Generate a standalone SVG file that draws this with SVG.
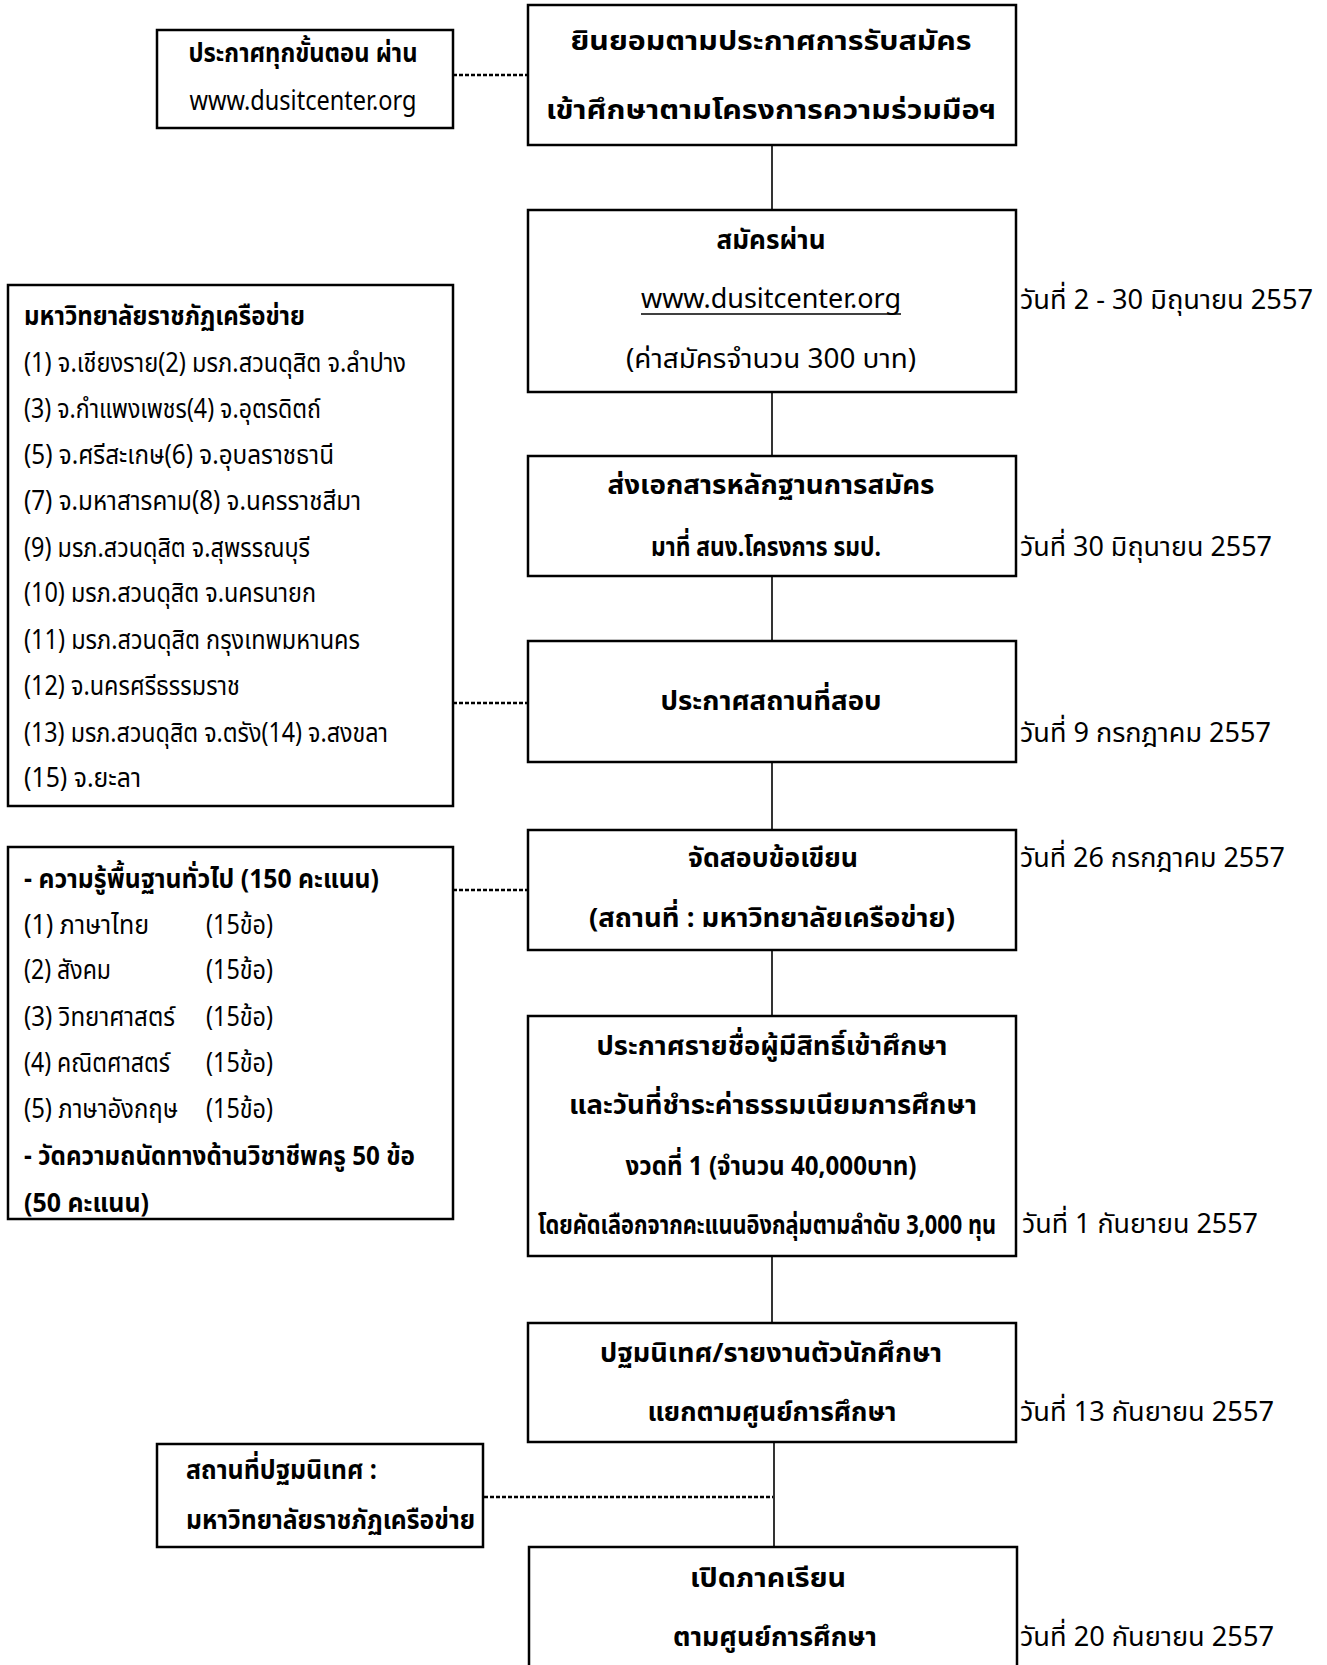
<svg xmlns="http://www.w3.org/2000/svg" width="1327" height="1665" viewBox="0 0 1327 1665">
<style>
.t{font-family:"Noto Sans Thai","Noto Sans","DejaVu Sans",sans-serif;font-size:27px;fill:#000}
.b{font-weight:bold}
.m{text-anchor:middle}
.box{fill:#fff;stroke:#000;stroke-width:2.5}
.ln{stroke:#000;stroke-width:1.6;fill:none}
.dash{stroke:#000;stroke-width:2.5;stroke-dasharray:4 2;fill:none}
</style>
<rect width="1327" height="1665" fill="#fff"/>
<g id="connectors">
<line class="ln" x1="772" y1="145" x2="772" y2="210"/>
<line class="ln" x1="772" y1="392" x2="772" y2="456"/>
<line class="ln" x1="772" y1="576" x2="772" y2="641"/>
<line class="ln" x1="772" y1="762" x2="772" y2="830"/>
<line class="ln" x1="772" y1="950" x2="772" y2="1016"/>
<line class="ln" x1="772" y1="1256" x2="772" y2="1322"/>
<line class="ln" x1="774" y1="1442" x2="774" y2="1547"/>
<line class="dash" x1="453" y1="75" x2="528" y2="75"/>
<line class="dash" x1="453" y1="703" x2="528" y2="703"/>
<line class="dash" x1="453" y1="890" x2="528" y2="890"/>
<line class="dash" x1="484" y1="1497" x2="773" y2="1497"/>
</g>
<g id="n1">
<rect class="box" x="528" y="5" width="488" height="140"/>
<text class="t b m" x="771" y="50" font-size="33" textLength="401" lengthAdjust="spacingAndGlyphs">ยินยอมตามประกาศการรับสมัคร</text>
<text class="t b m" x="771" y="119" font-size="33" textLength="450" lengthAdjust="spacingAndGlyphs">เข้าศึกษาตามโครงการความร่วมมือฯ</text>
</g>
<g id="nA">
<rect class="box" x="157" y="30" width="296" height="98"/>
<text class="t b m" x="303" y="62" textLength="229" lengthAdjust="spacingAndGlyphs">ประกาศทุกขั้นตอน ผ่าน</text>
<text class="t m" x="303" y="110" textLength="227" lengthAdjust="spacingAndGlyphs">www.dusitcenter.org</text>
</g>
<g id="n2">
<rect class="box" x="528" y="210" width="488" height="182"/>
<text class="t b m" x="771" y="249" textLength="109" lengthAdjust="spacingAndGlyphs">สมัครผ่าน</text>
<text class="t m" x="771" y="308" textLength="260" lengthAdjust="spacingAndGlyphs">www.dusitcenter.org</text>
<line x1="641" y1="314" x2="901" y2="314" stroke="#000" stroke-width="1.5"/>
<text class="t m" x="771" y="368" textLength="290" lengthAdjust="spacingAndGlyphs">(ค่าสมัครจำนวน 300 บาท)</text>
<text class="t" x="1020" y="309" textLength="293" lengthAdjust="spacingAndGlyphs">วันที่ 2 - 30 มิถุนายน 2557</text>
</g>
<g id="nB">
<rect class="box" x="8" y="285" width="445" height="521"/>
<text class="t b" x="24" y="325" textLength="281" lengthAdjust="spacingAndGlyphs">มหาวิทยาลัยราชภัฏเครือข่าย</text>
<text class="t" x="24" y="372" textLength="382" lengthAdjust="spacingAndGlyphs">(1) จ.เชียงราย(2) มรภ.สวนดุสิต จ.ลำปาง</text>
<text class="t" x="24" y="418" textLength="297" lengthAdjust="spacingAndGlyphs">(3) จ.กำแพงเพชร(4) จ.อุตรดิตถ์</text>
<text class="t" x="24" y="464" textLength="310" lengthAdjust="spacingAndGlyphs">(5) จ.ศรีสะเกษ(6) จ.อุบลราชธานี</text>
<text class="t" x="24" y="510" textLength="337" lengthAdjust="spacingAndGlyphs">(7) จ.มหาสารคาม(8) จ.นครราชสีมา</text>
<text class="t" x="24" y="557" textLength="286" lengthAdjust="spacingAndGlyphs">(9) มรภ.สวนดุสิต จ.สุพรรณบุรี</text>
<text class="t" x="24" y="602" textLength="292" lengthAdjust="spacingAndGlyphs">(10) มรภ.สวนดุสิต จ.นครนายก</text>
<text class="t" x="24" y="649" textLength="336" lengthAdjust="spacingAndGlyphs">(11) มรภ.สวนดุสิต กรุงเทพมหานคร</text>
<text class="t" x="24" y="695" textLength="216" lengthAdjust="spacingAndGlyphs">(12) จ.นครศรีธรรมราช</text>
<text class="t" x="24" y="742" textLength="364" lengthAdjust="spacingAndGlyphs">(13) มรภ.สวนดุสิต จ.ตรัง(14) จ.สงขลา</text>
<text class="t" x="24" y="787" textLength="117" lengthAdjust="spacingAndGlyphs">(15) จ.ยะลา</text>
</g>
<g id="n3">
<rect class="box" x="528" y="456" width="488" height="120"/>
<text class="t b m" x="771" y="494" textLength="327" lengthAdjust="spacingAndGlyphs">ส่งเอกสารหลักฐานการสมัคร</text>
<text class="t b m" x="766" y="556" textLength="230" lengthAdjust="spacingAndGlyphs">มาที่ สนง.โครงการ รมป.</text>
<text class="t" x="1020" y="556" textLength="252" lengthAdjust="spacingAndGlyphs">วันที่ 30 มิถุนายน 2557</text>
</g>
<g id="n4">
<rect class="box" x="528" y="641" width="488" height="121"/>
<text class="t b m" x="771" y="710" textLength="221" lengthAdjust="spacingAndGlyphs">ประกาศสถานที่สอบ</text>
<text class="t" x="1020" y="742" textLength="251" lengthAdjust="spacingAndGlyphs">วันที่ 9 กรกฎาคม 2557</text>
</g>
<g id="n5">
<rect class="box" x="528" y="830" width="488" height="120"/>
<text class="t b m" x="773" y="867" textLength="170" lengthAdjust="spacingAndGlyphs">จัดสอบข้อเขียน</text>
<text class="t b m" x="772" y="927" textLength="366" lengthAdjust="spacingAndGlyphs">(สถานที่ : มหาวิทยาลัยเครือข่าย)</text>
<text class="t" x="1020" y="867" textLength="265" lengthAdjust="spacingAndGlyphs">วันที่ 26 กรกฎาคม 2557</text>
</g>
<g id="nC">
<rect class="box" x="8" y="847" width="445" height="372"/>
<text class="t b" x="24" y="888" textLength="355" lengthAdjust="spacingAndGlyphs">- ความรู้พื้นฐานทั่วไป (150 คะแนน)</text>
<text class="t" x="24" y="934" textLength="125" lengthAdjust="spacingAndGlyphs">(1) ภาษาไทย</text>
<text class="t" x="206" y="934" textLength="67" lengthAdjust="spacingAndGlyphs">(15ข้อ)</text>
<text class="t" x="24" y="979" textLength="87" lengthAdjust="spacingAndGlyphs">(2) สังคม</text>
<text class="t" x="206" y="979" textLength="67" lengthAdjust="spacingAndGlyphs">(15ข้อ)</text>
<text class="t" x="24" y="1026" textLength="151" lengthAdjust="spacingAndGlyphs">(3) วิทยาศาสตร์</text>
<text class="t" x="206" y="1026" textLength="67" lengthAdjust="spacingAndGlyphs">(15ข้อ)</text>
<text class="t" x="24" y="1072" textLength="146" lengthAdjust="spacingAndGlyphs">(4) คณิตศาสตร์</text>
<text class="t" x="206" y="1072" textLength="67" lengthAdjust="spacingAndGlyphs">(15ข้อ)</text>
<text class="t" x="24" y="1118" textLength="154" lengthAdjust="spacingAndGlyphs">(5) ภาษาอังกฤษ</text>
<text class="t" x="206" y="1118" textLength="67" lengthAdjust="spacingAndGlyphs">(15ข้อ)</text>
<text class="t b" x="24" y="1165" textLength="391" lengthAdjust="spacingAndGlyphs">- วัดความถนัดทางด้านวิชาชีพครู 50 ข้อ</text>
<text class="t b" x="24" y="1212" textLength="125" lengthAdjust="spacingAndGlyphs">(50 คะแนน)</text>
</g>
<g id="n6">
<rect class="box" x="528" y="1016" width="488" height="240"/>
<text class="t b m" x="772" y="1055" textLength="351" lengthAdjust="spacingAndGlyphs">ประกาศรายชื่อผู้มีสิทธิ์เข้าศึกษา</text>
<text class="t b m" x="773" y="1114" textLength="408" lengthAdjust="spacingAndGlyphs">และวันที่ชำระค่าธรรมเนียมการศึกษา</text>
<text class="t b m" x="771" y="1175" textLength="291" lengthAdjust="spacingAndGlyphs">งวดที่ 1 (จำนวน 40,000บาท)</text>
<text class="t b m" x="767" y="1234" font-size="16" textLength="458" lengthAdjust="spacingAndGlyphs">โดยคัดเลือกจากคะแนนอิงกลุ่มตามลำดับ 3,000 ทุน</text>
<text class="t" x="1022" y="1233" textLength="236" lengthAdjust="spacingAndGlyphs">วันที่ 1 กันยายน 2557</text>
</g>
<g id="n7">
<rect class="box" x="528" y="1323" width="488" height="119"/>
<text class="t b m" x="771" y="1362" textLength="342" lengthAdjust="spacingAndGlyphs">ปฐมนิเทศ/รายงานตัวนักศึกษา</text>
<text class="t b m" x="772" y="1421" textLength="249" lengthAdjust="spacingAndGlyphs">แยกตามศูนย์การศึกษา</text>
<text class="t" x="1020" y="1421" textLength="254" lengthAdjust="spacingAndGlyphs">วันที่ 13 กันยายน 2557</text>
</g>
<g id="nD">
<rect class="box" x="157" y="1444" width="326" height="103"/>
<text class="t b" x="186" y="1479" textLength="191" lengthAdjust="spacingAndGlyphs">สถานที่ปฐมนิเทศ :</text>
<text class="t b" x="186" y="1529" textLength="289" lengthAdjust="spacingAndGlyphs">มหาวิทยาลัยราชภัฏเครือข่าย</text>
</g>
<g id="n8">
<rect class="box" x="529" y="1547" width="488" height="140"/>
<text class="t b m" x="768" y="1587" textLength="156" lengthAdjust="spacingAndGlyphs">เปิดภาคเรียน</text>
<text class="t b m" x="775" y="1646" textLength="204" lengthAdjust="spacingAndGlyphs">ตามศูนย์การศึกษา</text>
<text class="t" x="1020" y="1646" textLength="254" lengthAdjust="spacingAndGlyphs">วันที่ 20 กันยายน 2557</text>
</g>
</svg>
